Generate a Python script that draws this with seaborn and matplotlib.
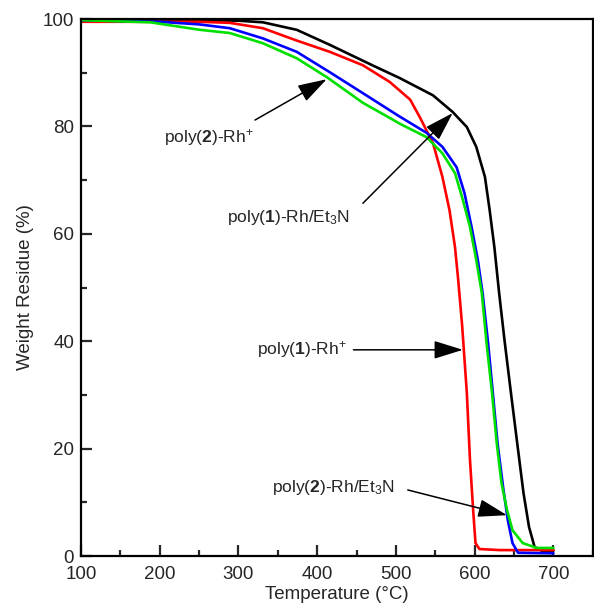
import matplotlib
matplotlib.use("Agg")
import matplotlib.pyplot as plt
import seaborn as sns
import pandas as pd
from matplotlib.ticker import MultipleLocator

# ---- data ----
black_T = [100, 200, 250, 300, 331, 374, 416, 470, 505, 547, 572, 590, 602, 613, 619, 625, 631, 638, 646, 654, 662, 669, 676, 686, 700]
black_W = [99.8, 99.8, 99.8, 99.7, 99.4, 98.0, 95.2, 91.4, 89.0, 85.8, 82.7, 79.9, 76.2, 70.6, 64.4, 57.5, 49.0, 40.0, 30.4, 21.0, 11.7, 5.4, 1.7, 0.9, 1.0]

red_T = [100, 200, 250, 289, 331, 374, 416, 458, 492, 518, 530, 547, 559, 568, 575, 579, 584, 590, 594, 598, 601, 606, 632, 700]
red_W = [99.5, 99.5, 99.5, 99.3, 98.3, 96.0, 93.9, 91.4, 88.3, 85.0, 81.8, 76.9, 70.6, 64.4, 57.5, 51.5, 43.0, 30.4, 17.9, 8.6, 2.4, 1.3, 1.1, 1.1]

blue_T = [100, 200, 251, 289, 331, 374, 416, 458, 503, 539, 559, 577, 587, 596, 604, 610, 617, 623, 629, 636, 642, 648, 655, 700]
blue_W = [99.8, 99.5, 99.0, 98.3, 96.4, 93.9, 90.1, 86.2, 82.0, 78.8, 76.2, 72.4, 67.6, 61.3, 55.1, 49.0, 39.7, 30.4, 21.0, 12.9, 6.7, 2.4, 0.6, 0.5]

green_T = [100, 188, 251, 289, 331, 374, 412, 458, 492, 505, 539, 559, 575, 585, 594, 602, 609, 615, 622, 628, 634, 641, 648, 661, 679, 700]
green_W = [99.8, 99.4, 98.0, 97.4, 95.5, 92.7, 89.2, 84.4, 81.6, 80.5, 78.0, 75.0, 71.3, 66.3, 61.3, 55.1, 49.0, 39.7, 30.4, 21.0, 13.6, 8.6, 4.8, 2.4, 1.5, 1.5]

series_names = ["black", "red", "blue", "green"]
colors = {"black": "#000000", "red": "#ff0000", "blue": "#0000ff", "green": "#00e000"}

labels = [r"poly($\mathbf{2}$)-Rh$^{+}$", r"poly($\mathbf{1}$)-Rh/Et$_3$N",
          r"poly($\mathbf{1}$)-Rh$^{+}$", r"poly($\mathbf{2}$)-Rh/Et$_3$N"]
label_xy = [(206, 78.0), (286, 63.0), (323, 38.4), (342, 12.7)]
arrow_tail = [(321, 81.2), (458, 65.7), (446, 38.4), (515, 12.3)]
arrow_tip = [(412, 88.8), (572, 82.5), (585, 38.4), (641, 7.6)]

# ---- build frame ----
frames = []
for name, T, W in [("black", black_T, black_W), ("red", red_T, red_W),
                   ("blue", blue_T, blue_W), ("green", green_T, green_W)]:
    frames.append(pd.DataFrame({"T": T, "W": W, "series": name}))
df = pd.concat(frames, ignore_index=True)

sns.set_theme(style="ticks")
plt.rcParams["font.family"] = ["Liberation Sans", "DejaVu Sans"]
plt.rcParams["mathtext.fontset"] = "custom"
plt.rcParams["mathtext.rm"] = "Liberation Sans"
plt.rcParams["mathtext.it"] = "Liberation Sans:italic"
plt.rcParams["mathtext.bf"] = "Liberation Sans:bold"

fig = plt.figure(figsize=(5.94, 6.06), dpi=100)
ax = fig.add_axes([0.1364, 0.0825, 0.8616, 0.886])

sns.lineplot(data=df, x="T", y="W", hue="series", hue_order=series_names,
             palette=colors, estimator=None, sort=False, linewidth=1.9,
             legend=False, ax=ax)
for ln in ax.get_lines():
    ln.set_solid_joinstyle("round")

ax.set_xlim(100, 750)
ax.set_ylim(0, 100)
ax.xaxis.set_minor_locator(MultipleLocator(50))
ax.yaxis.set_major_locator(MultipleLocator(20))
ax.yaxis.set_minor_locator(MultipleLocator(10))
ax.set_xticks([100, 200, 300, 400, 500, 600, 700])
ax.tick_params(which="major", direction="in", length=8, width=1.6, labelsize=13.5, pad=5,
               top=False, right=False)
ax.tick_params(axis="x", which="major", pad=7)
ax.tick_params(which="minor", direction="in", length=4, width=1.6, top=False, right=False)
for s in ax.spines.values():
    s.set_linewidth(1.6)
    s.set_color("black")

ax.set_xlabel("Temperature (°C)", fontsize=13.5, labelpad=2)
ax.set_ylabel("Weight Residue (%)", fontsize=13.5, labelpad=6)

for lab, (tx, ty), tail, tip in zip(labels, label_xy, arrow_tail, arrow_tip):
    ax.text(tx, ty, lab, fontsize=12.5, ha="left", va="center")
    ax.annotate("", xy=tip, xytext=tail,
                arrowprops=dict(arrowstyle="-|>,head_length=0.9,head_width=0.28",
                                mutation_scale=20, color="black", lw=1.1,
                                shrinkA=0, shrinkB=0))

fig.savefig("out.png", dpi=100)
